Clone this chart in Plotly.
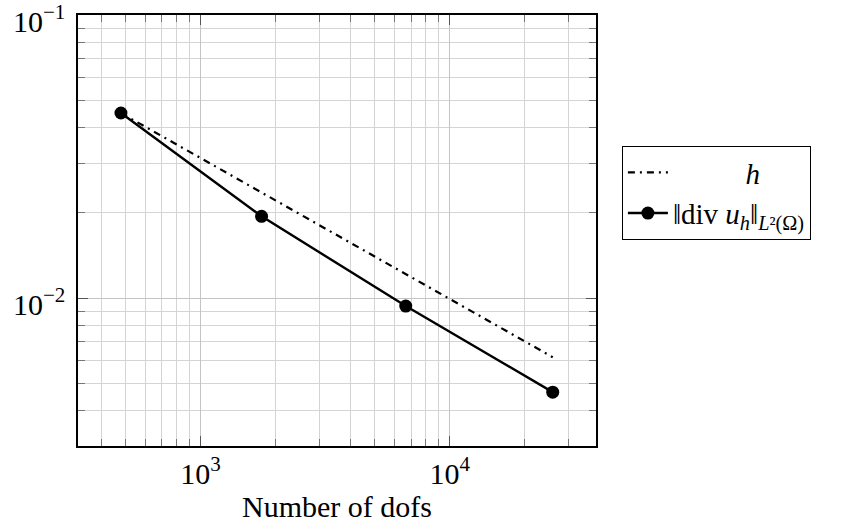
import math
import plotly.graph_objects as go

dofs = [479, 1757, 6660, 25900]
h_vals = [0.0451, 0.0236, 0.0121, 0.00618]
div_err = [0.0451, 0.01945, 0.00937, 0.00465]

x_ticks = [1e3, 1e4]
x_ticktext = ["10<sup>3</sup>", "10<sup>4</sup>"]
y_ticks = [1e-2, 1e-1]
y_ticktext = ["10<sup>−2</sup>", "10<sup>−1</sup>"]
x_minor = [400, 500, 600, 700, 800, 900, 2000, 3000, 4000, 5000, 6000, 7000, 8000, 9000, 20000, 30000]
y_minor = [3e-3, 4e-3, 5e-3, 6e-3, 7e-3, 8e-3, 9e-3, 2e-2, 3e-2, 4e-2, 5e-2, 6e-2, 7e-2, 8e-2, 9e-2]

FONT = "Liberation Serif"

fig = go.Figure()
fig.add_trace(go.Scatter(
    x=dofs, y=h_vals, mode="lines", name="          <i>h</i>",
    line=dict(color="black", width=2.2, dash="7px,5px,2px,5px"),
))
fig.add_trace(go.Scatter(
    x=dofs, y=div_err, mode="lines+markers",
    name="‖div <i>u<sub>h</sub></i>‖<sub><i>L</i>²(Ω)</sub>",
    line=dict(color="black", width=2.4),
    marker=dict(color="black", size=13),
))

axis_common = dict(
    type="log", showline=True, linecolor="black", linewidth=1.5, mirror="ticks",
    ticks="inside", ticklen=10, tickcolor="#555555", tickwidth=1.2,
    showgrid=True, gridcolor="#c4c4c4", gridwidth=1,
    zeroline=False, tickmode="array", ticklabeloverflow="allow",
)

fig.update_xaxes(
    **axis_common,
    range=[2.508, 4.587],
    tickvals=x_ticks, ticktext=x_ticktext,
    tickfont=dict(family=FONT, size=30, color="black"),
    minor=dict(tickmode="array", tickvals=x_minor, ticks="inside", ticklen=7,
               tickcolor="#777777", showgrid=True, gridcolor="#d4d4d4", gridwidth=1),
    title=dict(text="Number of dofs", font=dict(family=FONT, size=30, color="black"), standoff=6),
    ticklabelstandoff=0,
)
fig.update_yaxes(
    **axis_common,
    range=[-2.5229, -0.9995],
    tickvals=y_ticks, showticklabels=False,
    minor=dict(tickmode="array", tickvals=y_minor, ticks="inside", ticklen=7,
               tickcolor="#777777", showgrid=True, gridcolor="#d4d4d4", gridwidth=1),
)

for v, txt in zip(y_ticks, y_ticktext):
    fig.add_annotation(
        x=0, xref="paper", y=math.log10(v), yref="y",
        text=txt, showarrow=False, xanchor="right", yanchor="middle",
        xshift=-11, yshift=-4,
        font=dict(family=FONT, size=30, color="black"),
    )

fig.update_layout(
    width=856, height=529,
    margin=dict(l=78, r=260, t=15, b=83, autoexpand=False),
    paper_bgcolor="white", plot_bgcolor="white",
    font=dict(family=FONT, color="black"),
    showlegend=True,
    legend=dict(
        x=1.05, y=0.696, xanchor="left", yanchor="top",
        bgcolor="white", bordercolor="black", borderwidth=1,
        font=dict(family=FONT, size=29, color="black"),
        itemwidth=40, tracegroupgap=0,
    ),
)

fig.write_html("out.html")
